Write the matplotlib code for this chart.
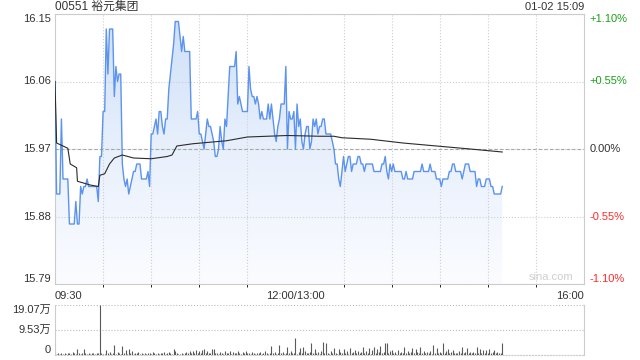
import numpy as np
import matplotlib.pyplot as plt
from matplotlib.colors import LinearSegmentedColormap
from matplotlib.patches import PathPatch

plt.rcParams['font.family'] = ['Liberation Sans', 'Noto Sans CJK SC', 'DejaVu Sans']

# ---- data ----
title_text = '00551 裕元集团'
time_text = '01-02 15:09'
prev_close = 15.97
price_ticks = [15.79, 15.88, 15.97, 16.06, 16.15]
pct_labels = ['-1.10%', '-0.55%', '0.00%', '+0.55%', '+1.10%']
time_ticks = [0, 150, 330]
time_labels = ['09:30', '12:00/13:00', '16:00']
vol_ticks = [0, 9.53, 19.07]
vol_labels = ['0', '9.53万', '19.07万']

# one price per trading minute from 09:30 (lunch break removed)
prices = [
    16.06, 15.91, 15.91, 15.91, 16.01, 15.93, 15.93, 15.93, 15.93, 15.87,
    15.87, 15.87, 15.87, 15.90, 15.87, 15.87, 15.92, 15.91, 15.92, 15.92,
    15.93, 15.92, 15.92, 15.92, 15.92, 15.92, 15.92, 15.90, 15.96, 15.96,
    16.02, 16.02, 16.13, 16.07, 16.13, 16.13, 16.13, 16.04, 16.08, 16.06,
    16.07, 16.07, 15.95, 15.93, 15.92, 15.93, 15.91, 15.92, 15.93, 15.94,
    15.94, 15.95, 15.95, 15.95, 15.93, 15.93, 15.93, 15.93, 15.94, 15.92,
    15.99, 15.99, 16.00, 16.01, 15.99, 16.02, 16.02, 16.00, 15.99, 16.01,
    16.01, 16.05, 16.07, 16.09, 16.11, 16.14, 16.14, 16.14, 16.12, 16.10,
    16.12, 16.10, 16.10, 16.10, 16.10, 16.01, 16.01, 16.01, 16.01, 16.02,
    15.99, 15.99, 15.98, 15.97, 15.99, 16.01, 16.00, 16.00, 15.99, 15.98,
    15.96, 15.96, 15.97, 16.00, 15.98, 15.97, 16.01, 16.00, 16.04, 16.08,
    16.08, 16.08, 16.08, 16.10, 16.03, 16.04, 16.03, 16.02, 16.02, 16.02,
    16.02, 16.08, 16.05, 16.04, 16.04, 16.03, 16.04, 16.03, 16.01, 16.02,
    16.01, 16.01, 16.01, 16.03, 16.01, 16.03, 16.01, 15.99, 15.98, 16.00,
    16.01, 16.03, 16.03, 16.03, 16.08, 15.97, 16.02, 16.01, 16.01, 16.02,
    15.97, 16.03, 16.00, 16.01, 15.98, 15.97, 15.99, 16.00, 16.00, 15.97,
    15.98, 16.01, 16.00, 16.01, 15.99, 16.00, 16.00, 16.01, 16.01, 15.99,
    15.99, 15.99, 15.99, 15.98, 15.97, 15.95, 15.95, 15.93, 15.92, 15.94,
    15.96, 15.94, 15.95, 15.96, 15.96, 15.94, 15.95, 15.95, 15.95, 15.96,
    15.96, 15.95, 15.95, 15.94, 15.95, 15.95, 15.95, 15.95, 15.95, 15.94,
    15.94, 15.94, 15.94, 15.94, 15.95, 15.95, 15.96, 15.94, 15.93, 15.95,
    15.94, 15.95, 15.94, 15.94, 15.94, 15.94, 15.94, 15.93, 15.93, 15.94,
    15.93, 15.93, 15.93, 15.93, 15.94, 15.94, 15.94, 15.94, 15.94, 15.95,
    15.94, 15.94, 15.94, 15.94, 15.95, 15.94, 15.94, 15.94, 15.93, 15.93,
    15.93, 15.92, 15.93, 15.93, 15.93, 15.93, 15.94, 15.94, 15.95, 15.95,
    15.94, 15.94, 15.94, 15.94, 15.93, 15.94, 15.95, 15.95, 15.95, 15.94,
    15.94, 15.94, 15.94, 15.92, 15.93, 15.93, 15.92, 15.92, 15.92, 15.93,
    15.93, 15.93, 15.92, 15.92, 15.91, 15.91, 15.91, 15.91, 15.91, 15.92,
]

# average price line, read at its corners
avg_minutes = [0, 1, 8, 9.5, 13.5, 14, 22, 27, 28, 31, 34, 37, 42, 49, 60, 70,
               73, 76, 86, 107, 120, 145, 165, 174, 179, 197, 217, 238, 259, 279]
avg_prices = [16.06, 15.978, 15.971, 15.95, 15.945, 15.927, 15.922, 15.92, 15.935,
              15.937, 15.95, 15.958, 15.962, 15.958, 15.957, 15.96, 15.962, 15.974,
              15.977, 15.981, 15.986, 15.988, 15.987, 15.987, 15.985, 15.983,
              15.978, 15.974, 15.97, 15.966]

# volume per minute, in 万 shares
volumes = [
    1.7, 0.5, 0.6, 0.4, 0.8, 0.5, 0.7, 0.4, 0.6, 0.9,
    0.5, 1.2, 0.6, 0.4, 2.3, 0.6, 0.5, 0.7, 2.3, 0.6,
    0.5, 0.8, 0.4, 0.6, 0.7, 0.5, 0.8, 0.9, 19.07, 0.6,
    0.5, 0.4, 2.0, 0.7, 1.2, 0.5, 0.6, 3.8, 0.5, 1.2,
    0.6, 0.5, 3.4, 0.8, 1.9, 0.5, 2.2, 0.6, 1.4, 0.5,
    0.9, 0.6, 1.1, 0.5, 0.7, 0.4, 0.9, 0.5, 0.6, 0.8,
    0.5, 1.0, 0.6, 0.4, 0.9, 0.5, 0.7, 0.6, 1.0, 0.5,
    0.8, 1.3, 0.6, 0.5, 2.3, 1.5, 0.6, 0.5, 0.4, 0.6,
    0.5, 0.7, 1.1, 0.6, 1.4, 0.8, 1.5, 0.6, 1.9, 0.7,
    1.5, 0.6, 2.0, 2.1, 0.7, 1.4, 0.6, 0.9, 2.3, 2.3,
    0.6, 0.8, 0.5, 1.2, 0.7, 0.5, 1.4, 0.6, 0.9, 1.6,
    0.5, 1.3, 0.7, 0.6, 1.5, 0.8, 0.5, 1.1, 0.6, 1.5,
    0.7, 0.9, 0.5, 1.3, 0.6, 0.5, 0.8, 0.6, 1.0, 0.5,
    0.7, 1.4, 0.6, 0.5, 0.8, 3.4, 0.6, 1.0, 0.5, 0.7,
    3.8, 0.6, 1.2, 0.5, 0.9, 2.9, 0.7, 1.4, 0.6, 0.8,
    6.4, 0.5, 1.3, 2.7, 0.6, 3.2, 1.5, 0.8, 0.6, 1.3,
    4.6, 0.7, 2.1, 0.6, 1.0, 0.5, 1.4, 5.0, 0.6, 4.5,
    0.8, 0.5, 1.4, 0.6, 2.5, 0.7, 0.5, 2.1, 1.2, 0.6,
    2.4, 0.7, 1.5, 0.5, 2.5, 0.9, 1.3, 1.8, 0.6, 1.5,
    0.8, 1.1, 3.2, 0.6, 1.4, 0.7, 2.5, 0.5, 1.9, 3.2,
    0.7, 2.4, 1.2, 3.3, 0.6, 1.0, 4.5, 4.6, 0.8, 1.5,
    2.0, 0.6, 1.3, 0.5, 1.8, 0.9, 1.2, 0.6, 3.1, 0.7,
    1.4, 0.6, 1.1, 2.5, 0.7, 2.4, 1.0, 0.6, 3.2, 0.8,
    1.5, 0.6, 1.0, 0.7, 1.4, 0.5, 3.8, 0.8, 2.5, 0.6,
    1.2, 0.7, 4.5, 0.9, 1.6, 2.4, 0.6, 1.1, 1.9, 0.7,
    0.9, 0.6, 1.4, 0.8, 3.2, 0.7, 1.2, 2.5, 0.6, 1.0,
    0.7, 1.3, 0.6, 3.2, 0.8, 2.4, 0.6, 1.8, 0.7, 1.9,
    0.6, 2.4, 0.8, 1.0, 1.9, 0.6, 1.1, 0.8, 0.7, 4.7,
]

minutes = np.arange(len(prices))

UP = '#1a9f1a'
DOWN = '#ff2a2a'
FLAT = '#333333'
GRID = '#cfcfcf'
LINE = '#5b93ee'

fig = plt.figure(figsize=(6.4, 3.6), dpi=100)
ax = fig.add_axes([55 / 640, 76 / 360, 529 / 640, 270 / 360])
axv = fig.add_axes([55 / 640, 5 / 360, 529 / 640, 50 / 360])

# ---- price panel ----
fill = ax.fill_between(minutes, prices, price_ticks[0], color='none', lw=0)
clip = PathPatch(fill.get_paths()[0], transform=ax.transData, fc='none', ec='none')
ax.add_patch(clip)
grad = np.linspace(1, 0, 256).reshape(-1, 1)
cmap = LinearSegmentedColormap.from_list('fade', ['#fbfcff', '#e8f0fc', '#cddff8'])
im = ax.imshow(grad, aspect='auto', cmap=cmap, origin='upper',
               extent=[0, 330, price_ticks[0], price_ticks[-1]], zorder=1)
im.set_clip_path(clip)

ax.plot(minutes, prices, color=LINE, lw=1.0, zorder=3)
ax.plot(avg_minutes, avg_prices, color='#2b2b2b', lw=0.8, zorder=4)

ax.set_xlim(0, 330)
ax.set_ylim(price_ticks[0], price_ticks[-1])

ax.set_xticks(np.arange(0, 331, 30), minor=True)
ax.set_xticks(time_ticks)
ax.set_xticklabels(time_labels)
for lab, ha in zip(ax.get_xticklabels(), ['left', 'center', 'right']):
    lab.set_ha(ha)
ax.grid(which='minor', axis='x', ls=':', color=GRID, lw=0.8)
ax.set_yticks(price_ticks)
ax.set_yticklabels(['%.2f' % p for p in price_ticks])
ax.grid(axis='y', ls=':', color=GRID, lw=0.8)
ax.axhline(prev_close, color='#a8a8a8', ls=(0, (3, 2)), lw=0.8, zorder=2)

colors = [DOWN, DOWN, FLAT, UP, UP]
vas = ['bottom', 'center', 'center', 'center', 'top']
for lab, c, va in zip(ax.get_yticklabels(), colors, vas):
    lab.set_color(c)
    lab.set_va(va)
ax.tick_params(length=0, labelsize=8, colors=FLAT, pad=3)
ax.tick_params(axis='x', pad=5)
for s in ax.spines.values():
    s.set_color('#cccccc')

axr = ax.twinx()
axr.set_ylim(ax.get_ylim())
axr.set_yticks(price_ticks)
axr.set_yticklabels(pct_labels)
for lab, c, va in zip(axr.get_yticklabels(), colors, vas):
    lab.set_color(c)
    lab.set_va(va)
axr.tick_params(length=0, labelsize=8, pad=4)
for s in axr.spines.values():
    s.set_visible(False)

ax.text(0.98, 0.008, 'sina.com', transform=ax.transAxes, ha='right', va='bottom',
        fontsize=8, color='#cfcfcf')

fig.text(55 / 640, 1 - 7 / 360, title_text, ha='left', va='center', fontsize=8.5, color=FLAT)
fig.text(584 / 640, 1 - 7 / 360, time_text, ha='right', va='center', fontsize=8, color=FLAT)

# ---- volume panel ----
axv.vlines(minutes, 0, volumes, color='#5a5a5a', lw=0.8)
axv.set_xlim(0, 330)
axv.set_ylim(0, vol_ticks[-1])
axv.set_xticks([])
axv.set_yticks(vol_ticks)
axv.set_yticklabels(vol_labels)
for lab, va in zip(axv.get_yticklabels(), ['bottom', 'center', 'top']):
    lab.set_va(va)
axv.tick_params(length=0, labelsize=8, colors=FLAT, pad=3)
axv.grid(axis='y', ls=':', color='#bbbbbb', lw=0.8)
axv.spines['top'].set_visible(False)
axv.spines['bottom'].set_linestyle(':')
for s in axv.spines.values():
    s.set_color('#cccccc')

fig.savefig('out.png', dpi=100)
